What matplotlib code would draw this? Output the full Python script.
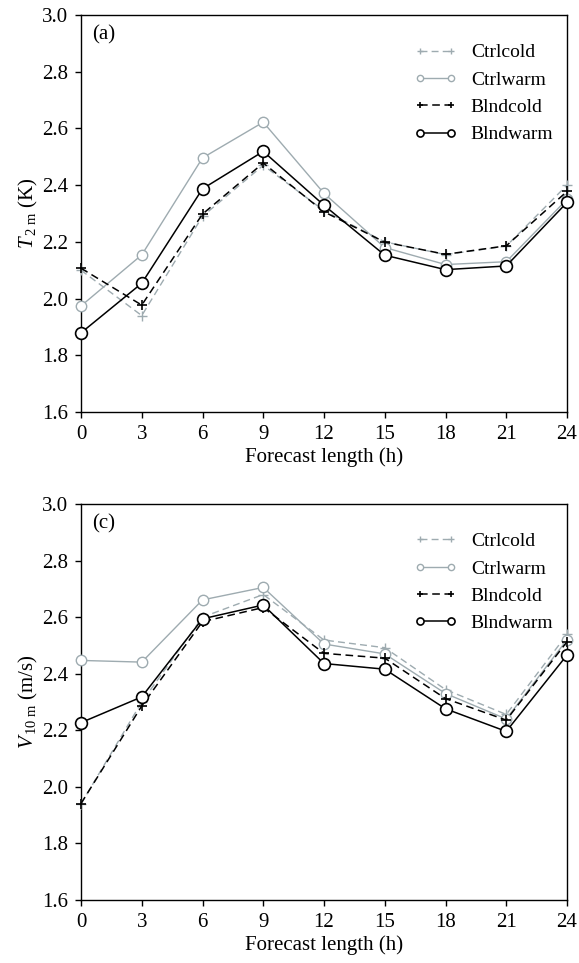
import matplotlib
matplotlib.use("Agg")
import matplotlib.pyplot as plt

plt.rcParams['font.family'] = ['Liberation Serif', 'DejaVu Serif']
plt.rcParams['mathtext.fontset'] = 'custom'
plt.rcParams['mathtext.rm'] = 'Liberation Serif'
plt.rcParams['mathtext.it'] = 'Liberation Serif:italic'

hours = [0, 3, 6, 9, 12, 15, 18, 21, 24]
series_names = ['Ctrlcold', 'Ctrlwarm', 'Blndcold', 'Blndwarm']

t2m_ctrlcold = [2.10, 1.94, 2.29, 2.47, 2.31, 2.20, 2.155, 2.185, 2.40]
t2m_ctrlwarm = [1.974, 2.154, 2.496, 2.622, 2.371, 2.18, 2.12, 2.13, 2.35]
t2m_blndcold = [2.107, 1.977, 2.298, 2.478, 2.306, 2.199, 2.156, 2.186, 2.378]
t2m_blndwarm = [1.879, 2.054, 2.387, 2.519, 2.329, 2.153, 2.102, 2.115, 2.339]

v10_ctrlcold = [1.94, 2.30, 2.60, 2.68, 2.519, 2.492, 2.344, 2.256, 2.539]
v10_ctrlwarm = [2.447, 2.441, 2.661, 2.705, 2.505, 2.47, 2.33, 2.24, 2.52]
v10_blndcold = [1.941, 2.286, 2.584, 2.634, 2.472, 2.455, 2.312, 2.236, 2.513]
v10_blndwarm = [2.227, 2.318, 2.594, 2.643, 2.436, 2.416, 2.276, 2.196, 2.466]

panels = [
    ('(a)', r'$T_{\,\mathrm{2\ m}}$ (K)', [t2m_ctrlcold, t2m_ctrlwarm, t2m_blndcold, t2m_blndwarm]),
    ('(c)', r'$V_{\,\mathrm{10\ m}}$ (m/s)', [v10_ctrlcold, v10_ctrlwarm, v10_blndcold, v10_blndwarm]),
]

gray = '#9eabb0'
styles = [
    dict(color=gray, ls=(0, (5, 3)), lw=1.0, marker='+', ms=7, mew=1.0),
    dict(color=gray, ls='-', lw=1.0, marker='o', ms=7.5, mfc='white', mew=1.0),
    dict(color='black', ls=(0, (5, 3)), lw=1.1, marker='+', ms=7, mew=1.2),
    dict(color='black', ls='-', lw=1.1, marker='o', ms=8.5, mfc='white', mew=1.2),
]

W, H = 579, 963
fig = plt.figure(figsize=(W / 100, H / 100), dpi=100)
boxes = [(81, 15, 567, 412), (81, 504, 567, 900)]

for (label, ylabel, data), (x0, y0, x1, y1) in zip(panels, boxes):
    ax = fig.add_axes([x0 / W, 1 - y1 / H, (x1 - x0) / W, (y1 - y0) / H])
    for name, vals, st in zip(series_names, data, styles):
        ax.plot(hours, vals, label=name, clip_on=False, zorder=3, **st)
    ax.set_xlim(0, 24)
    ax.set_ylim(1.6, 3.0)
    ax.set_xticks(hours)
    ax.set_yticks([1.6, 1.8, 2.0, 2.2, 2.4, 2.6, 2.8, 3.0])
    ax.set_yticklabels(['1.6', '1.8', '2.0', '2.2', '2.4', '2.6', '2.8', '3.0'])
    ax.tick_params(direction='out', length=4, width=1, labelsize=15, pad=5)
    for sp in ax.spines.values():
        sp.set_linewidth(1.0)
    ax.set_xlabel('Forecast length (h)', fontsize=15, labelpad=3)
    ax.set_ylabel(ylabel, fontsize=15, labelpad=2)
    ax.text(0.023, 0.975, label, transform=ax.transAxes, fontsize=15, va='top', ha='left')
    ax.legend(loc='upper right', bbox_to_anchor=(1.0, 0.962), frameon=False, fontsize=14,
              markerscale=0.6, numpoints=2, handlelength=2.2, handletextpad=0.7,
              labelspacing=0.5, borderaxespad=0.3)

fig.savefig('out.png', dpi=100)
